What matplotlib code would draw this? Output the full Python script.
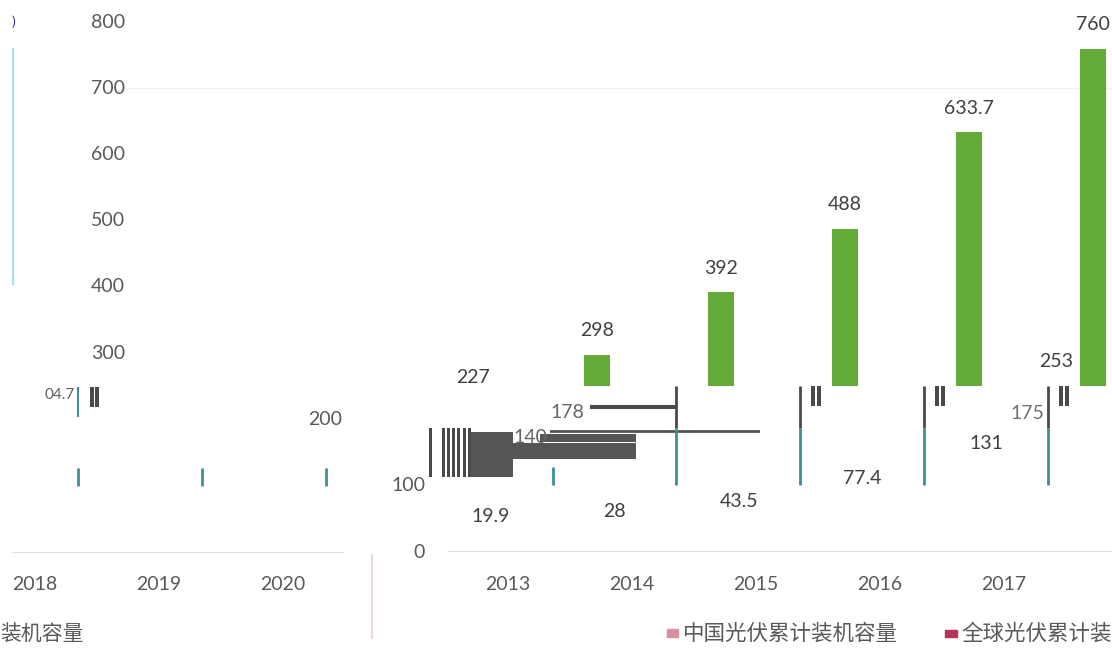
import matplotlib
matplotlib.use("Agg")
import matplotlib.pyplot as plt

plt.rcParams["font.family"] = ["Lato", "Noto Sans CJK SC", "DejaVu Sans"]

# data
years = ["2013", "2014", "2015", "2016", "2017"]
years_left = ["2018", "2019", "2020"]
global_vals = [227, 298, 392, 488, 633.7, 760]      # green bars (last one sits past 2017)
china_vals = [19.9, 28, 43.5, 77.4, 131]
china_late = [175, 253]
china_late_pos = [4.19, 4.42]
gray_vals = [140, 178]
gray_pos = [0.18, 0.48]
left_label = 204.7
yticks_top = [300, 400, 500, 600, 700, 800]
yticks_low = ["200", "100", "0"]
legend_labels = ["中国光伏累计装机容量", "全球光伏累计装机容量"]

GREEN = "#63aa38"
TXT = "#595959"
LBL = "#404040"
DARK = "#4a4a4a"
TEAL = "#3d8f94"

W, H = 1112, 649
fig = plt.figure(figsize=(W / 100, H / 100), dpi=100)


def fx(px):
    return px / W


def fy(py):
    return (H - py) / H


# main (right) panel: 0 at y=552px, 800 at y=22px
ax = fig.add_axes([0, fy(552), 1, (552 - 22) / H])
ax.set_xlim(-508 / 124, (W - 508) / 124)
ax.set_ylim(0, 800)
ax.axis("off")

# green bars only visible above ~250 (clipped strip)
cut = (552 - 386) / 0.6625
axg = fig.add_axes([0, fy(386), 1, (386 - 22) / H])
axg.set_xlim(ax.get_xlim())
axg.set_ylim(cut, 800)
axg.axis("off")
gx = [i - 0.28 for i in range(len(global_vals))]
axg.bar(gx, global_vals, width=0.21, color=GREEN)
for x, v in zip(gx, global_vals):
    ax.annotate(f"{v:g}", (x, v), xytext=(0, 24), textcoords="offset pixels",
                ha="center", va="center", fontsize=14, color=LBL,
                annotation_clip=False)

# China value labels (bars themselves lost)
for i, v in enumerate(china_vals):
    ax.annotate(f"{v:g}", (i - 0.14, v), xytext=(0, 22), textcoords="offset pixels",
                ha="center", va="center", fontsize=14, color=LBL)
for x, v in zip(china_late_pos, china_late):
    ax.annotate(f"{v:g}", (x, v), xytext=(0, 23), textcoords="offset pixels",
                ha="center", va="center", fontsize=14, color=LBL if v > 200 else "#707070")

# glitched dark fragments around 2013-2014
stripe_x = [-0.625, -0.52, -0.48, -0.44, -0.40, -0.35, -0.31]
ax.bar(stripe_x, [74] * len(stripe_x), bottom=113, width=0.025, color=DARK)
ax.bar([-0.13], [68], bottom=113, width=0.34, color="#555555")
ax.barh([152], [0.99], left=0.04, height=24, color="#555555")
ax.barh([172], [0.77], left=0.26, height=12, color="#555555")
ax.hlines([180.5, 183], 0.34, 2.03, color=DARK, lw=1.2)
ax.hlines([217, 220], 0.66, 1.363, color=DARK, lw=1.5)
for x, v in zip(gray_pos, gray_vals):
    ax.annotate(f"{v:g}", (x, v), xytext=(0, 22), textcoords="offset pixels",
                ha="center", va="center", fontsize=14, color="#666666")

# category separators and small stripe blocks
for i in range(1, 5):
    ax.vlines(i + 0.355, 187, cut, color=DARK, lw=2)
    ax.vlines(i + 0.355, 101, 187, color=TEAL, lw=2)
for i in range(2, 5):
    ax.bar([i + 0.46, i + 0.51], [30, 30], bottom=220, width=0.03, color=DARK)
ax.vlines(0.363, 101, 128, color=TEAL, lw=2)

# y tick labels
for v in yticks_top:
    ax.annotate(str(v), (0, v), xycoords=("axes fraction", "data"),
                xytext=(125, 0), textcoords="offset pixels",
                ha="right", va="center", fontsize=14, color=TXT)
for s, xr in zip(yticks_low, [342, 425, 425]):
    ax.annotate(s, (0, float(s)), xycoords=("axes fraction", "data"),
                xytext=(xr, 0), textcoords="offset pixels",
                ha="right", va="center", fontsize=14, color=TXT)
ax.hlines(700, (125 - 508) / 124, ax.get_xlim()[1], color="#f0f0f0", lw=1)
ax.vlines((13 - 508) / 124, 403, 761, color="#9ee5f5", lw=1.5)
fig.text(fx(12), fy(22), ")", fontsize=10, color="#3a3aa0", va="center")

# x labels and baseline
for i, y in enumerate(years):
    ax.annotate(y, (i, 0), xytext=(0, -32), textcoords="offset pixels",
                ha="center", va="center", fontsize=14, color=TXT,
                annotation_clip=False)
ax.hlines(0, (447 - 508) / 124, ax.get_xlim()[1], color="#d9d9d9", lw=2)

# left panel (2018-2020 slice)
axl = fig.add_axes([0, fy(553), fx(372), (553 - 22) / H])
axl.set_xlim(-35 / 124, 337 / 124)
axl.set_ylim(0, 800)
axl.axis("off")
for i, y in enumerate(years_left):
    axl.annotate(y, (i, 0), xytext=(0, -31), textcoords="offset pixels",
                 ha="center", va="center", fontsize=14, color=TXT,
                 annotation_clip=False)
    axl.vlines(i + 0.35, 101, 128, color=TEAL, lw=2)
axl.hlines(0, (12 - 35) / 124, (344 - 35) / 124, color="#d9d9d9", lw=2)
axl.vlines(0.35, 205, 250, color=TEAL, lw=1.5)
axl.bar([0.46, 0.50], [30, 30], bottom=220, width=0.03, color=DARK)
axl.annotate("04.7", (0.2, left_label), xytext=(0, 22), textcoords="offset pixels",
             ha="center", va="center", fontsize=11, color="#606060")

fig.add_artist(plt.Line2D([fx(372)] * 2, [fy(555), fy(638)], color="#eed8dc", lw=1.5))

# legend fragments
fig.text(fx(0), fy(634), "装机容量", fontsize=15, color=TXT, va="center", ha="left")
fig.patches.append(plt.Rectangle((fx(667), fy(637)), fx(11), 8 / H,
                                 color="#d98fa0", transform=fig.transFigure, figure=fig))
fig.text(fx(683), fy(634), legend_labels[0], fontsize=15.5, color=TXT, va="center")
fig.patches.append(plt.Rectangle((fx(945), fy(637)), fx(12), 7 / H,
                                 color="#b5325a", transform=fig.transFigure, figure=fig))
fig.text(fx(961), fy(634), legend_labels[1], fontsize=15.5, color=TXT, va="center")

fig.savefig("out.png", dpi=100)
